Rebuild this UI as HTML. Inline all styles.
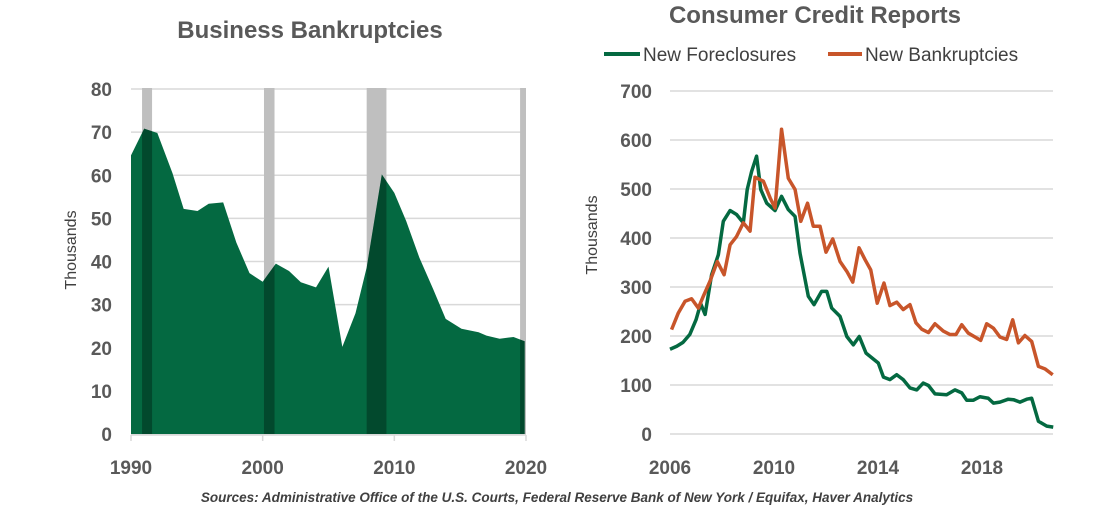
<!DOCTYPE html>
<html><head><meta charset="utf-8"><style>
body{margin:0;background:#fff;}
svg text{font-family:"Liberation Sans",Arial,sans-serif;}
</style></head><body>
<svg id="c" width="1114" height="512" viewBox="0 0 1114 512" xmlns="http://www.w3.org/2000/svg">
<text x="310" y="38" text-anchor="middle" font-size="24" font-weight="bold" fill="#595959">Business Bankruptcies</text>
<text x="815" y="23" text-anchor="middle" font-size="24" font-weight="bold" fill="#595959">Consumer Credit Reports</text>
<g>
<line x1="604" y1="54" x2="640" y2="54" stroke="#046941" stroke-width="4"/>
<text x="643" y="61" font-size="19" fill="#404040">New Foreclosures</text>
<line x1="828" y1="54" x2="862" y2="54" stroke="#C8552A" stroke-width="4"/>
<text x="865" y="61" font-size="19" fill="#404040">New Bankruptcies</text>
</g>
<text transform="translate(76,250) rotate(-90)" text-anchor="middle" font-size="16" fill="#404040">Thousands</text>
<text transform="translate(597,235) rotate(-90)" text-anchor="middle" font-size="16" fill="#404040">Thousands</text>
<text x="557" y="502" text-anchor="middle" font-size="13.5" font-style="italic" font-weight="bold" fill="#404040">Sources: Administrative Office of the U.S. Courts, Federal Reserve Bank of New York / Equifax, Haver Analytics</text>
<g id="L"></g><g id="R"></g>
</svg>
<script>
// Left chart data
const bizYears=[1990,1991,1992,1993.15,1994,1995.05,1995.9,1997,1998,1999,2000,2001,2002,2002.9,2004.05,2005,2006.05,2007.05,2007.9,2009.05,2010,2010.9,2011.9,2012.95,2013.9,2015.1,2016.4,2017,2018,2019.05,2019.9];
const bizValues=[64.6,70.8,69.8,60.5,52.2,51.7,53.4,53.7,44.4,37.3,35.3,39.5,37.8,35.2,34.0,38.8,20.2,28.0,38.6,60.2,55.9,49.4,40.9,33.6,26.7,24.4,23.6,22.8,22.1,22.5,21.5];
const recStart=[1990.84,2000.1,2007.9,2019.55];
const recEnd=[1991.6,2000.9,2009.4,2020];
const leftYTicks=[0,10,20,30,40,50,60,70,80];
const leftXTicks=[1990,2000,2010,2020];
// Right chart data
const fcYears=[2006,2006.26,2006.5,2006.76,2007,2007.18,2007.35,2007.6,2007.86,2008.05,2008.31,2008.56,2008.82,2008.97,2009.14,2009.33,2009.49,2009.72,2010.04,2010.29,2010.55,2010.81,2011,2011.32,2011.54,2011.83,2012.03,2012.22,2012.54,2012.8,2013.05,2013.28,2013.54,2014.01,2014.21,2014.46,2014.72,2014.97,2015.23,2015.49,2015.74,2015.94,2016.19,2016.64,2016.96,2017.22,2017.41,2017.67,2017.92,2018.24,2018.44,2018.69,2019.01,2019.21,2019.46,2019.72,2019.91,2020.17,2020.49,2020.74];
const fcValues=[173,179,187,203,233,266,244,325,366,434,456,448,431,499,536,567,499,471,456,485,458,444,369,281,264,291,291,257,240,199,182,199,165,145,116,111,121,111,94,90,104,99,82,80,90,84,69,69,76,73,63,65,71,70,65,71,73,26,16,14];
const bkYears=[2006.06,2006.32,2006.58,2006.83,2007.09,2007.28,2007.54,2007.82,2008.08,2008.31,2008.56,2008.82,2009.08,2009.27,2009.59,2009.85,2010.04,2010.29,2010.55,2010.81,2011.03,2011.29,2011.51,2011.77,2012,2012.26,2012.54,2012.8,2013.03,2013.27,2013.5,2013.72,2013.97,2014.23,2014.46,2014.72,2014.97,2015.23,2015.46,2015.68,2015.94,2016.19,2016.51,2016.77,2017,2017.22,2017.47,2017.73,2017.95,2018.18,2018.44,2018.69,2018.95,2019.18,2019.4,2019.65,2019.91,2020.17,2020.42,2020.72];
const bkValues=[213,247,271,276,257,281,312,352,325,386,403,431,414,524,516,482,461,622,522,499,434,471,424,424,371,398,352,332,310,380,356,335,267,308,262,269,254,264,227,214,207,225,210,203,203,223,206,198,191,225,216,198,193,233,186,201,189,138,133,121];
const rightYTicks=[0,100,200,300,400,500,600,700];
const rightXTicks=[2006,2010,2014,2018];

const NS="http://www.w3.org/2000/svg";
function mk(p,t,a){const e=document.createElementNS(NS,t);for(const k in a)e.setAttribute(k,a[k]);p.appendChild(e);return e;}
const L=document.getElementById('L'),R=document.getElementById('R');
const lx=y=>131+(y-1990)*(395/30), ly=v=>434-v*(345/80);
const rx=y=>670+(y-2006)*26, ry=v=>434-v*(343/700);

// left gridlines
leftYTicks.forEach(v=>{
 const g=mk(L,'line',{x1:131,x2:526,y1:ly(v),y2:ly(v),stroke:'#d9d9d9','stroke-width':1.5});
 
 
 const t=mk(L,'text',{x:112,y:ly(v)+7,'text-anchor':'end','font-size':19,'font-weight':'bold',fill:'#595959'});t.textContent=v;
 
 
});
// recession bands
const bandRects=[];
recStart.forEach((s,i)=>{
 const r=mk(L,'rect',{x:lx(s),y:88,width:lx(recEnd[i])-lx(s),height:346,fill:'#bfbfbf'});
 
 
});
// area
let d='M'+lx(bizYears[0])+','+ly(0);
bizYears.forEach((y,i)=>{d+=' L'+lx(y)+','+ly(bizValues[i]);});
d+=' L'+lx(bizYears[bizYears.length-1])+','+ly(0)+' Z';
const cp=mk(L,'clipPath',{id:'ac'});mk(cp,'path',{d:d});
const area=mk(L,'path',{d:d,fill:'#046941'});


recStart.forEach((s,i)=>{
 const r=mk(L,'rect',{x:lx(s),y:88,width:lx(recEnd[i])-lx(s),height:346,fill:'#000','fill-opacity':0.3,'clip-path':'url(#ac)'});
 
 
});
const ax=mk(L,'line',{x1:131,x2:526,y1:435,y2:435,stroke:'#d9d9d9','stroke-width':1.5});


leftXTicks.forEach(y=>{
 const tk=mk(L,'line',{x1:lx(y),x2:lx(y),y1:435,y2:441,stroke:'#d9d9d9','stroke-width':1.5});
 
 
 const t=mk(L,'text',{x:lx(y),y:474,'text-anchor':'middle','font-size':19,'font-weight':'bold',fill:'#595959'});t.textContent=y;
 
 
});
// right
rightYTicks.forEach(v=>{
 const g=mk(R,'line',{x1:670,x2:1053,y1:ry(v),y2:ry(v),stroke:'#d9d9d9','stroke-width':1.5});
 
 
 const t=mk(R,'text',{x:652,y:ry(v)+7,'text-anchor':'end','font-size':19,'font-weight':'bold',fill:'#595959'});t.textContent=v;
 
 
});
rightXTicks.forEach(y=>{
 const t=mk(R,'text',{x:rx(y),y:474,'text-anchor':'middle','font-size':19,'font-weight':'bold',fill:'#595959'});t.textContent=y;
 
 
});
function line(xs,vs,c){let p='';xs.forEach((y,i)=>{p+=(i?' L':'M')+rx(y)+','+ry(vs[i]);});return mk(R,'path',{d:p,fill:'none',stroke:c,'stroke-width':3.5,'stroke-linejoin':'round'});}
const fl=line(fcYears,fcValues,'#046941');


const bl=line(bkYears,bkValues,'#C8552A');


</script>
</body></html>
